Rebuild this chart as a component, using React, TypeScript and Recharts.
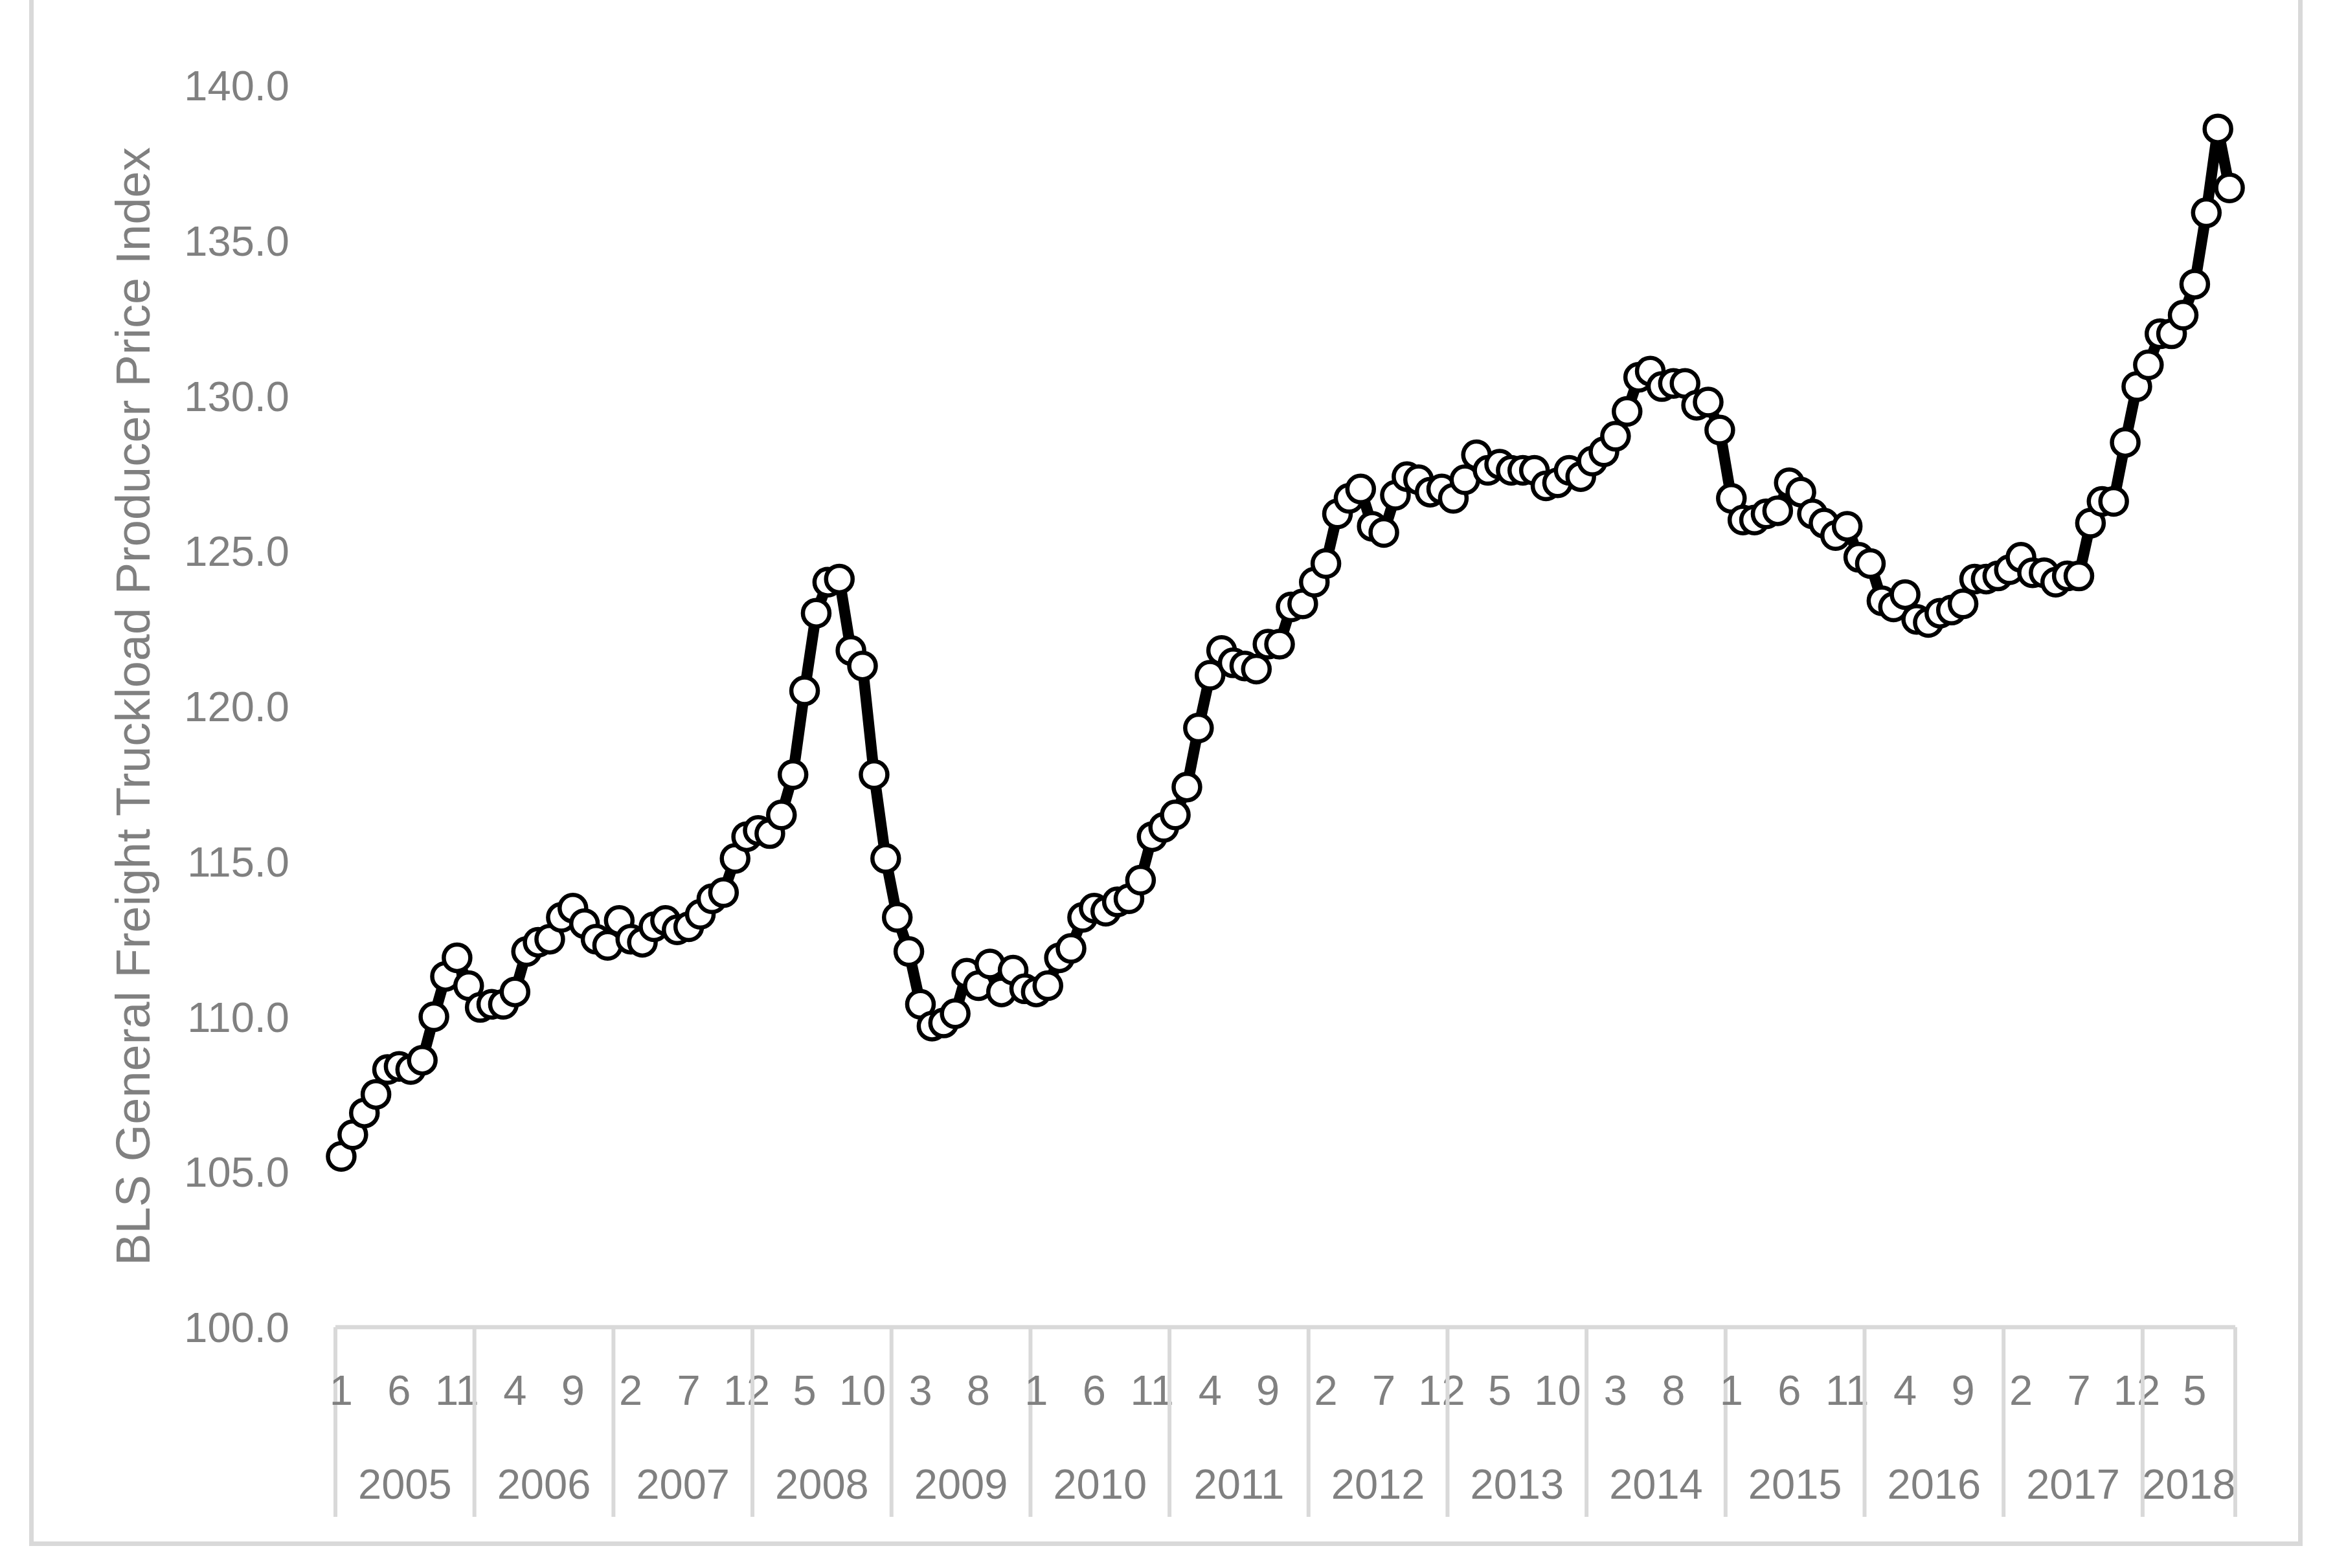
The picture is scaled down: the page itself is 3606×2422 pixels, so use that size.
import React from 'react';
import { LineChart, Line, XAxis, YAxis } from 'recharts';

// ---------- data ----------
const YEARS = ['2005', '2006', '2007', '2008', '2009', '2010', '2011', '2012', '2013', '2014', '2015', '2016', '2017', '2018'];
const MONTHS_PER_YEAR = [12, 12, 12, 12, 12, 12, 12, 12, 12, 12, 12, 12, 12, 8];

// BLS General Freight Truckload PPI, monthly Jan 2005 - Aug 2018
const PPI = [
  105.5, 106.2, 106.9, 107.5, 108.3, 108.4, 108.3, 108.6, 110.0, 111.3, 111.9, 111.0, // 2005
  110.3, 110.4, 110.4, 110.8, 112.1, 112.4, 112.5, 113.2, 113.5, 113.0, 112.5, 112.3, // 2006
  113.1, 112.5, 112.4, 112.9, 113.1, 112.8, 112.9, 113.3, 113.8, 114.0, 115.1, 115.8, // 2007
  116.0, 115.9, 116.5, 117.8, 120.5, 123.0, 124.0, 124.1, 121.8, 121.3, 117.8, 115.1, // 2008
  113.2, 112.1, 110.4, 109.7, 109.8, 110.1, 111.4, 111.0, 111.7, 110.8, 111.5, 110.9, // 2009
  110.8, 111.0, 111.9, 112.2, 113.2, 113.5, 113.4, 113.7, 113.8, 114.4, 115.8, 116.1, // 2010
  116.5, 117.4, 119.3, 121.0, 121.8, 121.4, 121.3, 121.2, 122.0, 122.0, 123.2, 123.3, // 2011
  124.0, 124.6, 126.2, 126.7, 127.0, 125.8, 125.6, 126.8, 127.4, 127.3, 126.9, 127.0, // 2012
  126.7, 127.3, 128.1, 127.6, 127.8, 127.6, 127.6, 127.6, 127.1, 127.2, 127.6, 127.4, // 2013
  127.9, 128.2, 128.7, 129.5, 130.6, 130.8, 130.3, 130.4, 130.4, 129.7, 129.8, 128.9, // 2014
  126.7, 126.0, 126.0, 126.2, 126.3, 127.2, 126.9, 126.2, 125.9, 125.5, 125.8, 124.8, // 2015
  124.6, 123.4, 123.2, 123.6, 122.8, 122.7, 123.0, 123.1, 123.3, 124.1, 124.1, 124.2, // 2016
  124.4, 124.8, 124.3, 124.3, 124.0, 124.2, 124.2, 125.9, 126.6, 126.6, 128.5, 130.3, // 2017
  131.0, 132.0, 132.0, 132.6, 133.6, 135.9, 138.6, 136.7, // 2018
];

const Y_TICKS = [100, 105, 110, 115, 120, 125, 130, 135, 140];
const MONTH_LABEL_STEP = 5;
const Y_TITLE = 'BLS General Freight Truckload Producer Price Index';

// ---------- derived tables ----------
type Row = { i: number; year: string; month: number; value: number };
const data: Row[] = [];
const yearGroups: { year: string; start: number; end: number }[] = [];
{
  let idx = 0;
  YEARS.forEach((y, k) => {
    const start = idx;
    for (let m = 1; m <= MONTHS_PER_YEAR[k]; m++) {
      data.push({ i: idx, year: y, month: m, value: PPI[idx] });
      idx++;
    }
    yearGroups.push({ year: y, start, end: idx });
  });
}

const monthLabel = new Map<number, string>();
data.forEach((d) => {
  if (d.i % MONTH_LABEL_STEP === 0) monthLabel.set(d.i, String(d.month));
});
const dividerSet = new Set<number>();
dividerSet.add(yearGroups[0].start - 0.5);
yearGroups.forEach((g) => dividerSet.add(g.end - 0.5));
const yearLabel = new Map<number, string>();
yearGroups.forEach((g) => yearLabel.set((g.start + g.end - 1) / 2, g.year));

const X_TICKS = [...monthLabel.keys(), ...dividerSet, ...yearLabel.keys()].sort((a, b) => a - b);
const X_DOMAIN = [-0.5, data.length - 0.5];

// ---------- styles ----------
const FONT = '"Liberation Sans", Arial, sans-serif';
const TEXT_GRAY = '#808080';
const LINE_GRAY = '#d9d9d9';

const XTick = (props: any) => {
  const { x, y, payload } = props;
  const v = payload.value;
  if (dividerSet.has(v)) {
    return <line x1={x} x2={x} y1={y} y2={y + 293} stroke={LINE_GRAY} strokeWidth={6} />;
  }
  if (yearLabel.has(v)) {
    return (
      <text x={x} y={y + 242} dy="0.355em" textAnchor="middle" fill={TEXT_GRAY} fontSize={65} fontFamily={FONT}>
        {yearLabel.get(v)}
      </text>
    );
  }
  if (monthLabel.has(v)) {
    return (
      <text x={x} y={y + 97} dy="0.355em" textAnchor="middle" fill={TEXT_GRAY} fontSize={65} fontFamily={FONT}>
        {monthLabel.get(v)}
      </text>
    );
  }
  return <g />;
};

export default function App() {
  return (
    <div style={{ position: 'absolute', left: 0, top: 0, width: 3606, height: 2422, background: '#fff', overflow: 'hidden' }}>
      <div
        style={{
          position: 'absolute',
          left: 45,
          top: -20,
          width: 3556 - 45,
          height: 2388 + 20,
          border: `7px solid ${LINE_GRAY}`,
          boxSizing: 'border-box',
        }}
      />
      <div style={{ position: 'absolute', left: 0, top: 0 }}>
        <LineChart
          width={3606}
          height={2422}
          data={data}
          margin={{ top: 132, right: 154, bottom: 72, left: 0 }}
        >
          <XAxis
            dataKey="i"
            type="number"
            domain={X_DOMAIN}
            ticks={X_TICKS}
            interval={0}
            tickSize={0}
            tickMargin={0}
            height={300}
            axisLine={{ stroke: LINE_GRAY, strokeWidth: 6.5 }}
            tickLine={false}
            tick={<XTick />}
          />
          <YAxis
            type="number"
            domain={[Y_TICKS[0], Y_TICKS[Y_TICKS.length - 1]]}
            ticks={Y_TICKS}
            interval={0}
            width={518}
            axisLine={false}
            tickLine={false}
            tickSize={0}
            tickMargin={71}
            tickFormatter={(v: number) => v.toFixed(1)}
            tick={{ fontSize: 65, fill: TEXT_GRAY, fontFamily: FONT }}
            label={{
              value: Y_TITLE,
              angle: -90,
              position: 'insideLeft',
              offset: 205,
              style: { textAnchor: 'middle', fontSize: 74, fill: TEXT_GRAY, fontFamily: FONT },
            }}
          />
          <Line
            type="linear"
            dataKey="value"
            stroke="#000"
            strokeWidth={17}
            dot={{ r: 20.5, fill: '#fff', stroke: '#000', strokeWidth: 6.5 }}
            activeDot={false}
            isAnimationActive={false}
          />
        </LineChart>
      </div>
    </div>
  );
}
